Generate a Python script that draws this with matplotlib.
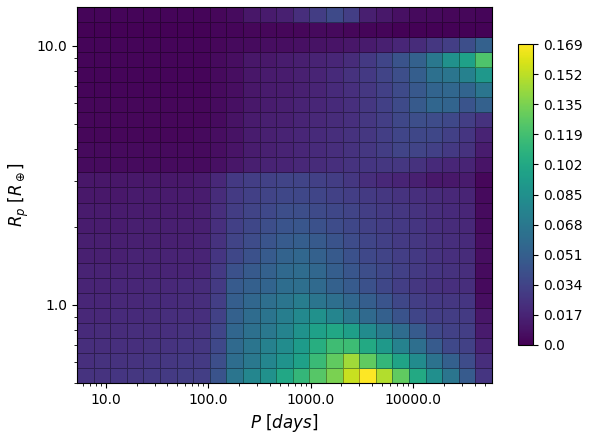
import numpy as np
import matplotlib
matplotlib.use("Agg")
import matplotlib.pyplot as plt
from matplotlib.ticker import FormatStrFormatter, NullFormatter

# occurrence rate per (period, radius) bin, rows listed from largest radius to smallest
rate_rows = [
    [0.002, 0.002, 0.002, 0.002, 0.002, 0.002, 0.002, 0.002, 0.003, 0.005, 0.010, 0.012, 0.015, 0.022, 0.030, 0.038, 0.031, 0.014, 0.011, 0.007, 0.004, 0.004, 0.003, 0.003, 0.002],
    [0.001, 0.001, 0.001, 0.001, 0.001, 0.001, 0.001, 0.001, 0.002, 0.002, 0.003, 0.003, 0.003, 0.003, 0.004, 0.004, 0.003, 0.002, 0.002, 0.001, 0.001, 0.001, 0.001, 0.001, 0.001],
    [0.002, 0.002, 0.002, 0.002, 0.002, 0.002, 0.002, 0.002, 0.003, 0.004, 0.005, 0.006, 0.006, 0.007, 0.008, 0.009, 0.010, 0.012, 0.015, 0.018, 0.021, 0.027, 0.031, 0.040, 0.052],
    [0.002, 0.002, 0.002, 0.002, 0.002, 0.002, 0.002, 0.002, 0.004, 0.006, 0.010, 0.011, 0.013, 0.014, 0.016, 0.018, 0.021, 0.028, 0.035, 0.043, 0.052, 0.068, 0.085, 0.096, 0.122],
    [0.002, 0.002, 0.002, 0.002, 0.002, 0.002, 0.002, 0.002, 0.004, 0.006, 0.010, 0.012, 0.013, 0.015, 0.017, 0.020, 0.024, 0.028, 0.034, 0.040, 0.050, 0.062, 0.066, 0.074, 0.090],
    [0.002, 0.002, 0.002, 0.002, 0.002, 0.002, 0.002, 0.002, 0.004, 0.006, 0.010, 0.012, 0.013, 0.015, 0.017, 0.020, 0.023, 0.027, 0.032, 0.038, 0.046, 0.054, 0.056, 0.054, 0.066],
    [0.003, 0.003, 0.003, 0.003, 0.003, 0.003, 0.003, 0.003, 0.005, 0.007, 0.011, 0.013, 0.014, 0.016, 0.018, 0.020, 0.023, 0.027, 0.032, 0.038, 0.047, 0.055, 0.054, 0.044, 0.052],
    [0.003, 0.003, 0.003, 0.003, 0.003, 0.003, 0.003, 0.003, 0.005, 0.008, 0.012, 0.014, 0.015, 0.017, 0.019, 0.021, 0.023, 0.027, 0.031, 0.036, 0.040, 0.039, 0.037, 0.031, 0.024],
    [0.003, 0.003, 0.003, 0.003, 0.003, 0.003, 0.003, 0.004, 0.006, 0.008, 0.013, 0.015, 0.016, 0.018, 0.020, 0.022, 0.024, 0.027, 0.031, 0.035, 0.036, 0.036, 0.032, 0.026, 0.016],
    [0.004, 0.004, 0.004, 0.004, 0.004, 0.004, 0.004, 0.004, 0.006, 0.009, 0.013, 0.015, 0.016, 0.018, 0.020, 0.022, 0.024, 0.027, 0.030, 0.034, 0.034, 0.032, 0.028, 0.024, 0.013],
    [0.005, 0.005, 0.005, 0.005, 0.005, 0.005, 0.005, 0.005, 0.007, 0.010, 0.014, 0.016, 0.017, 0.019, 0.021, 0.023, 0.025, 0.026, 0.027, 0.027, 0.024, 0.020, 0.018, 0.017, 0.009],
    [0.010, 0.010, 0.010, 0.011, 0.011, 0.011, 0.011, 0.012, 0.019, 0.028, 0.031, 0.033, 0.034, 0.034, 0.032, 0.030, 0.027, 0.022, 0.019, 0.017, 0.015, 0.011, 0.011, 0.012, 0.003],
    [0.011, 0.011, 0.011, 0.012, 0.012, 0.012, 0.012, 0.013, 0.021, 0.029, 0.032, 0.034, 0.036, 0.036, 0.035, 0.033, 0.031, 0.029, 0.027, 0.025, 0.023, 0.021, 0.019, 0.017, 0.004],
    [0.012, 0.012, 0.012, 0.013, 0.013, 0.013, 0.013, 0.014, 0.022, 0.030, 0.034, 0.037, 0.040, 0.040, 0.038, 0.036, 0.034, 0.031, 0.029, 0.027, 0.025, 0.022, 0.020, 0.018, 0.005],
    [0.013, 0.013, 0.013, 0.014, 0.014, 0.014, 0.014, 0.015, 0.023, 0.032, 0.036, 0.040, 0.044, 0.045, 0.042, 0.039, 0.036, 0.033, 0.030, 0.028, 0.026, 0.023, 0.021, 0.019, 0.005],
    [0.014, 0.014, 0.014, 0.015, 0.015, 0.015, 0.015, 0.016, 0.024, 0.034, 0.039, 0.044, 0.048, 0.050, 0.047, 0.043, 0.039, 0.035, 0.032, 0.029, 0.027, 0.024, 0.022, 0.020, 0.006],
    [0.015, 0.015, 0.015, 0.016, 0.016, 0.016, 0.016, 0.017, 0.026, 0.036, 0.042, 0.048, 0.053, 0.056, 0.052, 0.047, 0.042, 0.037, 0.034, 0.031, 0.028, 0.025, 0.023, 0.021, 0.006],
    [0.016, 0.016, 0.016, 0.017, 0.017, 0.017, 0.017, 0.018, 0.028, 0.042, 0.047, 0.052, 0.057, 0.059, 0.056, 0.050, 0.045, 0.040, 0.036, 0.032, 0.029, 0.026, 0.024, 0.022, 0.005],
    [0.017, 0.017, 0.018, 0.018, 0.019, 0.019, 0.020, 0.021, 0.029, 0.048, 0.051, 0.054, 0.060, 0.061, 0.058, 0.052, 0.048, 0.042, 0.036, 0.031, 0.027, 0.024, 0.023, 0.022, 0.004],
    [0.018, 0.018, 0.019, 0.019, 0.020, 0.020, 0.021, 0.022, 0.031, 0.050, 0.056, 0.061, 0.066, 0.071, 0.066, 0.061, 0.056, 0.050, 0.044, 0.036, 0.031, 0.028, 0.027, 0.026, 0.006],
    [0.019, 0.019, 0.020, 0.020, 0.021, 0.022, 0.022, 0.023, 0.033, 0.052, 0.059, 0.065, 0.072, 0.080, 0.085, 0.077, 0.068, 0.058, 0.051, 0.043, 0.035, 0.031, 0.030, 0.029, 0.010],
    [0.020, 0.021, 0.021, 0.022, 0.022, 0.023, 0.024, 0.025, 0.035, 0.055, 0.062, 0.068, 0.076, 0.086, 0.096, 0.101, 0.095, 0.081, 0.070, 0.059, 0.048, 0.037, 0.033, 0.031, 0.012],
    [0.022, 0.022, 0.023, 0.023, 0.024, 0.025, 0.026, 0.027, 0.037, 0.058, 0.066, 0.074, 0.082, 0.092, 0.106, 0.117, 0.116, 0.102, 0.091, 0.075, 0.061, 0.048, 0.037, 0.033, 0.016],
    [0.023, 0.024, 0.024, 0.025, 0.026, 0.027, 0.028, 0.029, 0.040, 0.060, 0.068, 0.078, 0.087, 0.096, 0.115, 0.128, 0.145, 0.128, 0.112, 0.098, 0.081, 0.064, 0.051, 0.039, 0.022],
    [0.025, 0.025, 0.026, 0.027, 0.028, 0.029, 0.030, 0.031, 0.043, 0.066, 0.078, 0.085, 0.101, 0.112, 0.125, 0.135, 0.155, 0.16934, 0.150, 0.128, 0.102, 0.084, 0.066, 0.048, 0.026],
]

# bin edges in period (days) and planet radius (earth radii)
P_edges = np.logspace(np.log10(5.25), np.log10(59000.0), 26)
R_edges = np.logspace(np.log10(0.5), np.log10(14.1), 26)

Z = np.array(rate_rows)[::-1]
zmax = Z.max()

fig = plt.figure(figsize=(5.89, 4.34), dpi=100)
ax = fig.add_axes([77 / 589, 51 / 434, 415 / 589, 376 / 434])

mesh = ax.pcolormesh(P_edges, R_edges, Z, cmap='viridis', vmin=0, vmax=zmax,
                     edgecolors=(0, 0, 0, 0.35), linewidth=0.6)
ax.set_xscale('log')
ax.set_yscale('log')
ax.set_xlim(P_edges[0], P_edges[-1])
ax.set_ylim(R_edges[0], R_edges[-1])

for axis in (ax.xaxis, ax.yaxis):
    axis.set_major_formatter(FormatStrFormatter('%.1f'))
    axis.set_minor_formatter(NullFormatter())

ax.set_xlabel(r'$P\ [days]$', fontsize=12)
ax.set_ylabel(r'$R_p\ [R_\oplus]$', fontsize=12)

cax = fig.add_axes([518 / 589, 89 / 434, 15 / 589, 301 / 434])
ticks = np.linspace(0, zmax, 11)
cbar = fig.colorbar(mesh, cax=cax, ticks=ticks)
cbar.ax.set_yticklabels([str(round(t, 3)) for t in ticks])

fig.savefig('out.png', dpi=100)
